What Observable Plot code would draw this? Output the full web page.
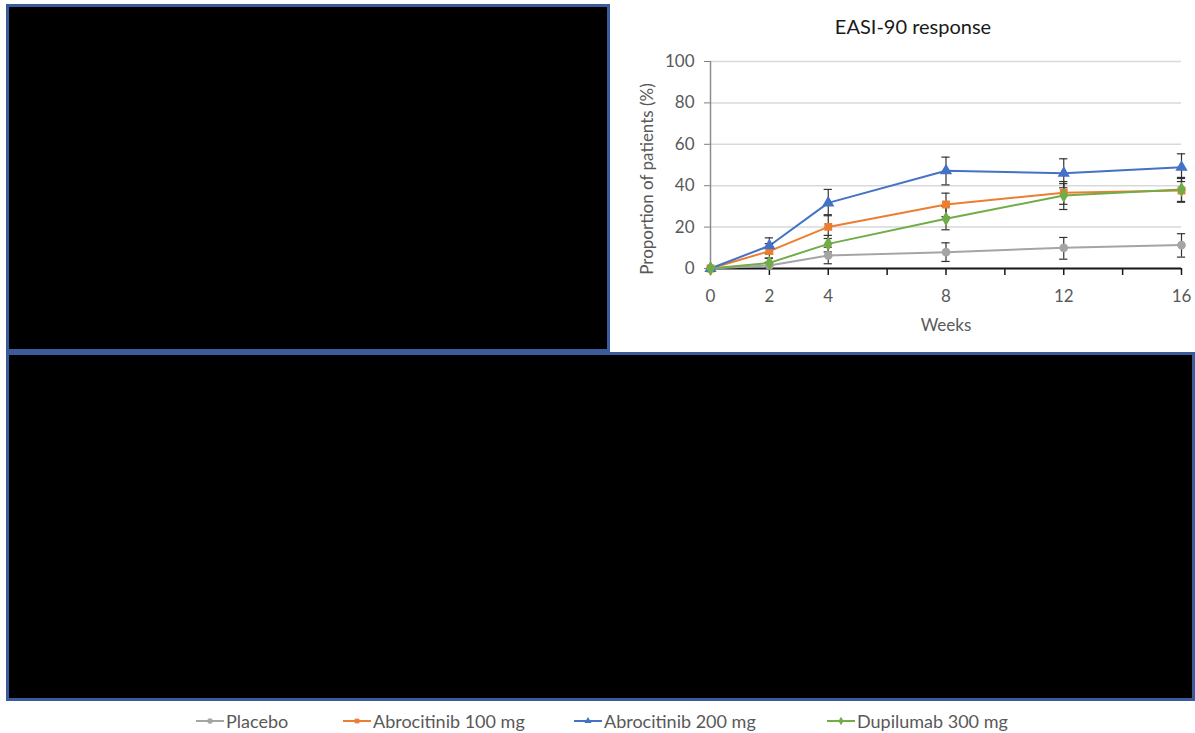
<!DOCTYPE html>
<html>
<head>
<meta charset="utf-8">
<script src="https://cdn.jsdelivr.net/npm/d3@7"></script>
<script src="https://cdn.jsdelivr.net/npm/@observablehq/plot@0.6"></script>
<style>
  html, body { margin: 0; padding: 0; background: #fff; }
  body { width: 1195px; height: 733px; position: relative; overflow: hidden; font-family: Lato, "Open Sans", sans-serif; }
  .box { position: absolute; background: #000; border: 3px solid #3a5c9c; box-sizing: border-box; }
  #title { position: absolute; top: 14px; text-align: center; font-size: 20px; color: #1a1a1a; }
  #chart { position: absolute; left: 610px; top: 40px; }
  #legend { position: absolute; top: 710px; left: 0; width: 1195px; height: 22px; }
  .item { position: absolute; top: 0; font-size: 18px; color: #595959; display: flex; align-items: center; }
  .item svg { margin-right: 2px; }
</style>
</head>
<body>
<div class="box" style="left:6px; top:4px; width:604px; height:348px;"></div>
<div class="box" style="left:6px; top:352px; width:1189px; height:349px;"></div>
<div id="title" style="left:610px; width:606px;">EASI-90 response</div>
<div id="chart"></div>
<div id="legend"></div>
<script>
const weeks = [0, 2, 4, 8, 12, 16];
const xTickLabels = [0, 2, 4, 8, 12, 16];
const yTicks = [0, 20, 40, 60, 80, 100];
const seriesNames = ["Placebo", "Abrocitinib 100 mg", "Abrocitinib 200 mg", "Dupilumab 300 mg"];
const seriesColors = ["#a5a5a5", "#ed7d31", "#4472c4", "#70ad47"];
const seriesSymbols = ["circle", "square", "triangle", "diamond"];

const placebo   = [0, 1.5, 6.3, 7.9, 10.0, 11.3];
const placeboLo = [0, 0.0, 2.3, 3.4, 4.5, 5.5];
const placeboHi = [0, 3.0, 10.3, 12.4, 15.0, 16.8];

const abro100   = [0, 8.4, 20.1, 30.9, 36.6, 37.7];
const abro100Lo = [0, 5.0, 14.5, 25.0, 31.0, 32.0];
const abro100Hi = [0, 12.0, 26.0, 36.4, 42.0, 43.5];

const abro200   = [0, 11.0, 31.7, 47.2, 46.0, 48.9];
const abro200Lo = [0, 7.0, 25.5, 40.4, 39.0, 42.0];
const abro200Hi = [0, 14.8, 38.2, 53.8, 53.0, 55.4];

const dupi      = [0, 2.7, 11.9, 24.0, 35.3, 38.2];
const dupiLo    = [0, 0.5, 8.0, 18.7, 28.5, 32.4];
const dupiHi    = [0, 5.0, 16.0, 30.0, 41.0, 44.0];

const values = [placebo, abro100, abro200, dupi];
const lows = [placeboLo, abro100Lo, abro200Lo, dupiLo];
const highs = [placeboHi, abro100Hi, abro200Hi, dupiHi];

const rows = [];
seriesNames.forEach((s, i) => {
  weeks.forEach((w, j) => {
    rows.push({series: s, week: w, value: values[i][j], lo: lows[i][j], hi: highs[i][j]});
  });
});
const errRows = rows.filter(d => d.week > 0);
const capHalf = 0.14;

const colorScale = {domain: seriesNames, range: seriesColors};
const symbolScale = {domain: seriesNames, range: seriesSymbols};

const chart = Plot.plot({
  width: 585,
  height: 310,
  marginLeft: 100,
  marginRight: 14,
  marginTop: 21,
  marginBottom: 82,
  style: {fontFamily: "Lato, 'Open Sans', sans-serif", fontSize: "17px", color: "#595959", background: "transparent", overflow: "visible"},
  x: {domain: [0, 16]},
  y: {domain: [0, 100]},
  color: colorScale,
  symbol: symbolScale,
  marks: [
    Plot.gridY(yTicks, {stroke: "#d9d9d9", strokeOpacity: 1, strokeWidth: 1.5}),
    Plot.axisY(yTicks, {tickSize: 6, tickPadding: 10, stroke: "#7f7f7f", fill: "#595959", fontSize: 17, label: null}),
    Plot.text(["Proportion of patients (%)"], {frameAnchor: "left", textAnchor: "middle", rotate: -90, dx: -63, dy: 14, fill: "#595959", fontSize: 17}),
    Plot.ruleX([0], {stroke: "#8c8c8c", strokeWidth: 1.5}),
    Plot.axisX(d3.range(0, 17, 2), {tickSize: 7, tickPadding: 14, stroke: "#1a1a1a", strokeWidth: 1.5, fill: "#595959", fontSize: 17,
      tickFormat: d => xTickLabels.includes(d) ? String(d) : "", label: null}),
    Plot.text(["Weeks"], {frameAnchor: "bottom", dy: 62, fill: "#595959", fontSize: 17}),
    Plot.ruleY([0], {stroke: "#1a1a1a", strokeWidth: 2}),
    Plot.line(rows, {x: "week", y: "value", z: "series", stroke: "series", strokeWidth: 2}),
    Plot.ruleX(errRows, {x: "week", y1: "lo", y2: "hi", stroke: "#333", strokeWidth: 1.2}),
    Plot.ruleY(errRows, {y: "lo", x1: d => d.week - capHalf, x2: d => d.week + capHalf, stroke: "#333", strokeWidth: 1.2}),
    Plot.ruleY(errRows, {y: "hi", x1: d => d.week - capHalf, x2: d => d.week + capHalf, stroke: "#333", strokeWidth: 1.2}),
    Plot.dot(rows, {x: "week", y: "value", symbol: "series", fill: "series", stroke: "series", r: 3.6})
  ]
});
document.getElementById("chart").appendChild(chart);

// Legend
const legend = document.getElementById("legend");
const legendLeft = [196, 343, 574, 827];
seriesNames.forEach((s, i) => {
  const item = document.createElement("div");
  item.className = "item";
  item.style.left = legendLeft[i] + "px";
  const sym = d3.symbol().type({circle: d3.symbolCircle, square: d3.symbolSquare, triangle: d3.symbolTriangle, diamond: d3.symbolDiamond}[seriesSymbols[i]]).size(22)();
  item.innerHTML = `<svg width="28" height="12"><line x1="0" x2="28" y1="6" y2="6" stroke="${seriesColors[i]}" stroke-width="2"/><path d="${sym}" transform="translate(14,6)" fill="${seriesColors[i]}"/></svg><span>${s}</span>`;
  legend.appendChild(item);
});
</script>
</body>
</html>
